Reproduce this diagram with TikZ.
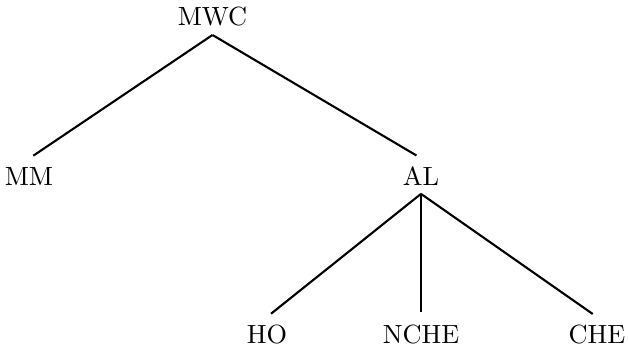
\documentclass[tikz,border=0pt]{standalone}
\usepackage{tikz}
\tikzset{lbl/.style={inner xsep=0pt, inner ysep=3pt},
         branch/.style={black, thick, shorten >=2pt}}

\begin{document}
\begin{tikzpicture}
\useasboundingbox (0,0) rectangle (8.388,-4.675);

\node[lbl] (mwc) at (2.838,-0.227) {MWC};

\node[lbl] (mm) at (0.387,-2.351) {MM};
\node[lbl] (al) at (5.623,-2.351) {AL};

\node[lbl] (ho) at (3.566,-4.474) {HO};
\node[lbl] (nche) at (5.623,-4.474) {NCHE};
\node[lbl] (che) at (7.974,-4.474) {CHE};

\draw[branch] (mwc.south) -- (mm.north);
\draw[branch] (mwc.south) -- (al.north);

\draw[branch] (al.south) -- (ho.north);
\draw[branch] (al.south) -- (nche.north);
\draw[branch] (al.south) -- (che.north);
\end{tikzpicture}
\end{document}
